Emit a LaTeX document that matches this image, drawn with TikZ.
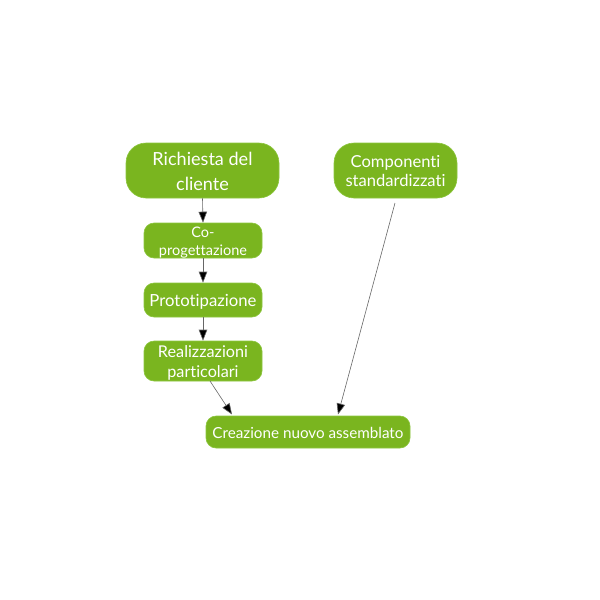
\documentclass[tikz,border=0pt]{standalone}
\usepackage{fontspec}
\usepackage{graphicx}
\setmainfont{Lato}[Ligatures={NoCommon}]
\usetikzlibrary{arrows.meta}
\definecolor{boxgreen}{HTML}{7AB51F}
\definecolor{boxedge}{HTML}{8CC63F}
% #1 target width of the widest line, #2 baselineskip (relative to 10pt), #3 text
\newcommand\fitlines[3]{\raisebox{-2.5pt}[\height][\depth]{\resizebox{#1}{!}{\fontsize{10}{#2}\selectfont\begin{tabular}{@{}c@{}}#3\end{tabular}}}}
\begin{document}
\begin{tikzpicture}[x=1pt,y=-1pt,
  box/.style={draw=boxedge, line width=0.6pt, fill=boxgreen, rounded corners=#1, text=white,
    align=center, inner sep=0pt},
  box/.default=10pt,
  conn/.style={draw=black!60, line width=0.6pt, -{Triangle[length=11pt,width=8.5pt,fill=black]}}]
\useasboundingbox (0,0) rectangle (600,600);
\node[box=20pt, minimum width=153pt, minimum height=55pt] (req) at (202.5,170.5) {\fitlines{100pt}{13.5pt}{Richiesta del\\cliente}};
\node[box=20pt, minimum width=123pt, minimum height=55pt] (comp) at (395.5,170.5) {\fitlines{100pt}{12pt}{Componenti\\standardizzati}};
\node[box=10pt, minimum width=118pt, minimum height=35pt] (cop) at (203,240.5) {\fitlines{88pt}{12pt}{Co-\\progettazione}};
\node[box=10pt, minimum width=118pt, minimum height=34pt] (proto) at (203,300) {\fitlines{107pt}{12pt}{Prototipazione}};
\node[box=10pt, minimum width=118pt, minimum height=40pt] (real) at (203,361) {\fitlines{90pt}{12pt}{Realizzazioni\\particolari}};
\node[box=10pt, minimum width=204pt, minimum height=32pt] (crea) at (308,432) {\fitlines{191pt}{12pt}{Creazione nuovo assemblato}};
\coordinate (compout) at (395,203);
\draw[conn] (req.south) -- (cop.north);
\draw[conn] (cop.south) -- (proto.north);
\draw[conn] (proto.south) -- (real.north);
\draw[conn] (210,381) -- (232,414.5);
\draw[conn] (compout) -- (338,414.5);
\end{tikzpicture}
\end{document}
